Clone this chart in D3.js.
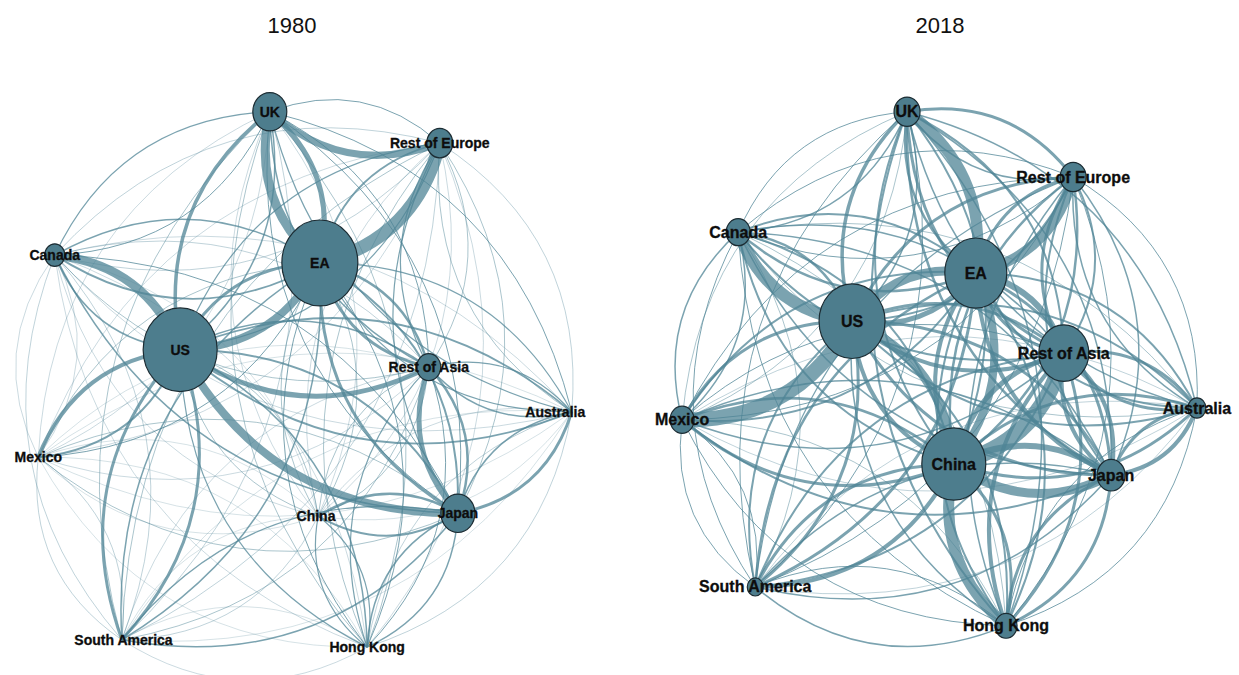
<!DOCTYPE html>
<html><head><meta charset="utf-8">
<script src="https://cdn.jsdelivr.net/npm/d3@7"></script>
<style>
html,body{margin:0;padding:0;background:#fff;}
svg{display:block;}
</style>
</head><body>
<svg id="chart" width="1239" height="675"></svg>
<script>
// ---------- DATA ----------
const countries = ["US","EA","UK","Rest of Europe","Canada","Mexico","South America","China","Hong Kong","Japan","Rest of Asia","Australia"];
const years = ["1980","2018"];

// node size (trade volume, arbitrary units)
const nodeSize1980 = [37,38,17,13,10,0,0,0,0,17,12,0];
const nodeSize2018 = [33,31,13,13,12,12,8,32,11,14,25,9];

// network layout coordinates (layout units 0-100)
const layoutX1980 = [27.3,52.7,43.6,74.5,4.5,1.5,16.7,52.4,61.3,77.8,72.5,98.5];
const layoutY1980 = [44.6,29.1,2.1,7.7,27.7,63.8,96.4,74.3,97.7,73.8,47.7,55.7];
const layoutX2018 = [33.1,55.6,43.1,73.3,12.4,2.2,15.5,51.6,61.1,80.2,71.6,95.8];
const layoutY2018 = [39.5,30.9,2.1,13.75,23.6,57.1,86.96,65.0,93.9,67.0,45.2,55.0];
// label shift (layout units) where a label is not centred on its node
const labelShiftX1980 = [0,0,0,0,0,0,0.3,-0.4,0,0,0,-3.0];
const labelShiftX2018 = [0,0,0,0,0,0,0,0,0,0,0,0];

// directed flows: row = source, column = target (same order as countries)
const flows1980 = [
  [0, 8, 1.5, 1.2, 9, 4, 3, 0.8, 1.2, 8, 5, 1.8],
  [3, 0, 5, 13, 1.5, 0.8, 1.5, 0.8, 1, 3, 3, 1.2],
  [3.5, 9, 0, 7, 1.2, 0.5, 0.8, 0.5, 0.8, 1, 1.5, 1.2],
  [1.2, 2, 1, 0, 0.6, 0.5, 0.8, 0.5, 0.8, 1.2, 1.2, 0.8],
  [1.5, 1.8, 1, 0.6, 0, 0.5, 0.6, 0.5, 0.5, 1.5, 0.8, 0.5],
  [2, 1, 0.5, 0.5, 0.5, 0, 0.6, 0.4, 0.4, 0.8, 0.5, 0.4],
  [3, 1.5, 0.6, 0.6, 0.6, 0.6, 0, 0.6, 0.5, 1.5, 0.8, 0.4],
  [0.8, 0.8, 0.5, 0.5, 0.4, 0.4, 0.4, 0, 1.2, 2, 0.8, 0.4],
  [1.5, 1, 0.8, 0.5, 0.5, 0.4, 0.4, 1.2, 0, 1.5, 1, 0.6],
  [2, 2, 1, 0.8, 1, 0.8, 1.2, 2.5, 1.5, 0, 2.5, 3],
  [1.5, 2.5, 1, 0.8, 0.6, 0.4, 0.5, 0.8, 1.2, 5, 0, 1.5],
  [1.8, 1.2, 1, 0.6, 0.5, 0.4, 0.4, 0.5, 0.6, 1.5, 1.2, 0]
];
const flows2018 = [
  [0, 5, 1.5, 2, 2.5, 3, 2, 4, 1.5, 3, 4, 2],
  [9, 0, 11, 10, 2, 2, 2.5, 4, 2, 4, 3, 2],
  [3.5, 2.5, 0, 1.5, 1, 0.8, 1, 2, 2, 2.5, 3, 1.5],
  [3, 3, 3, 0, 1, 1, 1.2, 2.5, 1.5, 2, 3, 1.5],
  [12, 2.5, 1.5, 1, 0, 1.5, 1, 2, 1, 1.5, 2, 0.8],
  [15, 2, 0.8, 1, 1.5, 0, 1, 3, 1, 2, 1.5, 0.6],
  [3, 3, 1, 1, 0.8, 1, 0, 4, 1.5, 1.5, 2, 0.6],
  [9, 8, 2, 2.5, 2, 2.5, 3, 0, 11, 9, 16, 3],
  [2, 2, 1.5, 1, 0.8, 0.8, 1, 3, 0, 3, 3, 1],
  [3, 3, 1.5, 1.5, 1.5, 1.5, 1.5, 6, 3, 0, 4, 4],
  [3, 6, 2, 2, 1.5, 1, 2, 5, 4, 4, 0, 3],
  [2, 2, 1.5, 1, 0.8, 0.6, 0.6, 3, 1, 3, 3, 0]
];

// ---------- DRAW ----------
const svg = d3.select("#chart");
const nodeFill = "#4d7d8d", nodeStroke = "#1c2c33", edgeColor = "#4f8496";

const panels = [
  {year: years[0], size: nodeSize1980, lx: layoutX1980, ly: layoutY1980, shift: labelShiftX1980, flows: flows1980,
   x: d3.scaleLinear([0,100],[30,580]), y: d3.scaleLinear([0,100],[100,660]),
   titleX: 292, labelSize: 14},
  {year: years[1], size: nodeSize2018, lx: layoutX2018, ly: layoutY2018, shift: labelShiftX2018, flows: flows2018,
   x: d3.scaleLinear([0,100],[670,1220]), y: d3.scaleLinear([0,100],[100,660]),
   titleX: 940, labelSize: 16}
];
const rScale = d3.scaleLinear([0,40],[0,40]);
const wScale = d3.scaleLinear([0,14],[0,14]);
const curv = 0.3;

panels.forEach(p => {
  const g = svg.append("g");
  const nodes = countries.map((c,i)=>({name:c, x:p.x(p.lx[i]), y:p.y(p.ly[i]),
     lx:p.x(p.lx[i]+p.shift[i]), r:rScale(p.size[i])}));
  const links = [];
  p.flows.forEach((row,i)=>row.forEach((v,j)=>{ if(i!==j && v>0) links.push({s:i,t:j,v}); }));
  links.sort((a,b)=>a.v-b.v);

  g.append("g").selectAll("path").data(links).join("path")
    .attr("d", d => {
      const a = nodes[d.s], b = nodes[d.t];
      const dx = b.x-a.x, dy = b.y-a.y;
      const mx = (a.x+b.x)/2, my = (a.y+b.y)/2;
      const cx = mx - dy*curv, cy = my + dx*curv;
      const pth = d3.path();
      pth.moveTo(a.x,a.y);
      pth.quadraticCurveTo(cx,cy,b.x,b.y);
      return pth.toString();
    })
    .attr("fill","none")
    .attr("stroke",edgeColor)
    .attr("stroke-opacity",d=>d.v<1 ? 0.6 : 0.75)
    .attr("stroke-width",d=>wScale(d.v));

  g.append("g").selectAll("ellipse").data(nodes.filter(n=>n.r>0)).join("ellipse")
    .attr("cx",d=>d.x).attr("cy",d=>d.y)
    .attr("rx",d=>d.r).attr("ry",d=>d.r*1.13)
    .attr("fill",nodeFill).attr("stroke",nodeStroke).attr("stroke-width",1.2);

  g.append("g").selectAll("text").data(nodes).join("text")
    .attr("x",d=>d.lx).attr("y",d=>d.y)
    .attr("text-anchor","middle").attr("dominant-baseline","central")
    .attr("font-family","Liberation Sans, Arial, sans-serif")
    .attr("font-weight","bold").attr("font-size",p.labelSize)
    .attr("fill","#0d0d0d")
    .attr("stroke","#0d0d0d").attr("stroke-width",0.3)
    .text(d=>d.name);

  svg.append("text").attr("x",p.titleX).attr("y",33)
    .attr("text-anchor","middle")
    .attr("font-family","Liberation Sans, Arial, sans-serif")
    .attr("font-size",22).attr("fill","#111")
    .text(p.year);
});
</script>
</body></html>
